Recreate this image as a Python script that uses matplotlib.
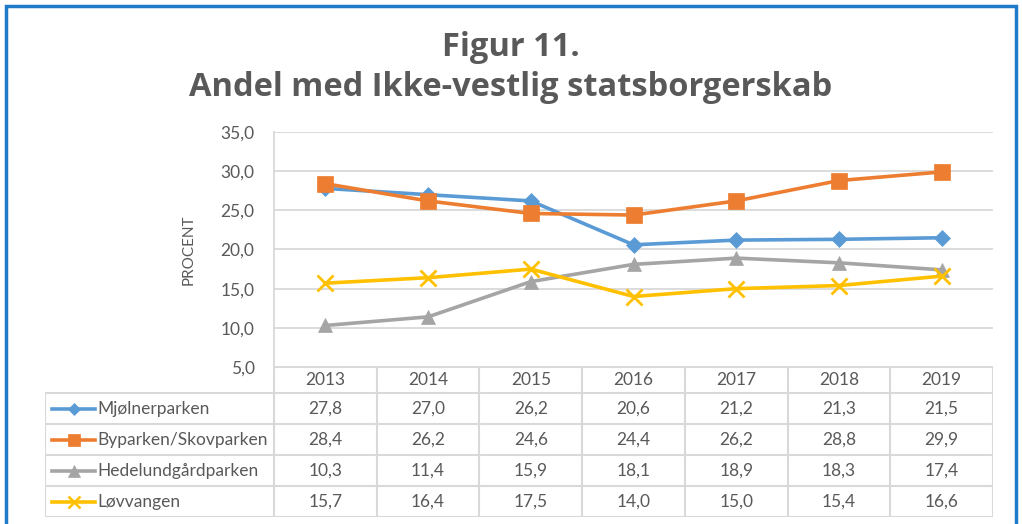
import matplotlib.pyplot as plt
from matplotlib.patches import Rectangle
import numpy as np

# data
years = ["2013", "2014", "2015", "2016", "2017", "2018", "2019"]
names = ["Mjølnerparken", "Byparken/Skovparken", "Hedelundgårdparken", "Løvvangen"]
mjolner = [27.8, 27.0, 26.2, 20.6, 21.2, 21.3, 21.5]
byparken = [28.4, 26.2, 24.6, 24.4, 26.2, 28.8, 29.9]
hedelund = [10.3, 11.4, 15.9, 18.1, 18.9, 18.3, 17.4]
lovvangen = [15.7, 16.4, 17.5, 14.0, 15.0, 15.4, 16.6]
yticks = [5, 10, 15, 20, 25, 30, 35]

series = [mjolner, byparken, hedelund, lovvangen]
colors = ["#5B9BD5", "#ED7D31", "#A5A5A5", "#FFC000"]
markers = ["D", "s", "^", "x"]
msizes = [8, 11, 10, 11]

txt = "#595959"
grid = "#D9D9D9"
plt.rcParams["font.family"] = ["Lato", "DejaVu Sans"]

W, H = 1022, 524
fig = plt.figure(figsize=(W / 100, H / 100), dpi=100)


def box(x0, y0, x1, y1):
    # pixel box (top-left origin) -> figure fraction rect
    return [x0 / W, 1 - y1 / H, (x1 - x0) / W, (y1 - y0) / H]


# blue frame
fig.patches.append(Rectangle((6 / W, -0.1), (1010) / W, 1.1 - 6 / H,
                             transform=fig.transFigure, fill=False,
                             edgecolor="#1F7BC9", linewidth=2.5))

title_kw = dict(ha="center", va="center", fontsize=23.5, fontweight="bold",
                color=txt, family=["Open Sans", "DejaVu Sans"])
fig.text(0.5, 1 - 48 / H, "Figur 11.", **title_kw)
fig.text(0.5, 1 - 87 / H, "Andel med Ikke-vestlig statsborgerskab", **title_kw)

# line chart
ax = fig.add_axes(box(274, 132, 993, 367))
x = np.arange(len(years))
for vals, c, m, ms in zip(series, colors, markers, msizes):
    ax.plot(x, vals, color=c, lw=2.6, marker=m, markersize=ms,
            markeredgewidth=2 if m == "x" else 0.5, markeredgecolor=c, zorder=3)
ax.set_xlim(-0.5, len(years) - 0.5)
ax.set_ylim(5, 35)
ax.set_yticks(yticks)
ax.set_yticklabels([f"{v:.1f}".replace(".", ",") for v in yticks])
ax.set_xticks([])
ax.grid(axis="y", color=grid, lw=1.3)
ax.set_axisbelow(True)
for s in ["top", "right", "bottom"]:
    ax.spines[s].set_visible(False)
ax.spines["left"].set_color(grid)
ax.spines["left"].set_linewidth(1.3)
ax.tick_params(axis="y", length=0, pad=14, labelsize=12.5, labelcolor=txt)
ax.set_ylabel("PROCENT", fontsize=11, color=txt, labelpad=18)

# data table
tx0 = -229 / 102.7
rows = [0, 0.84, 1.84, 2.84, 3.84, 4.84]
tab = fig.add_axes(box(45, 367, 993, 517))
tab.set_xlim(tx0, len(years))
tab.set_ylim(rows[-1], 0)
tab.axis("off")
lk = dict(color=grid, lw=1.5, solid_capstyle="butt")
tab.plot([0, len(years)], [0, 0], **lk)
for r in rows[1:]:
    tab.plot([tx0, len(years)], [r, r], **lk)
tab.plot([tx0, tx0], [rows[1], rows[-1]], **lk)
for i in range(len(years) + 1):
    tab.plot([i, i], [0, rows[-1]], **lk)
for i, yr in enumerate(years):
    tab.text(i + 0.5, rows[0] / 2 + rows[1] / 2, yr, ha="center", va="center",
             fontsize=12.5, color=txt)
for j, (nm, vals, c, m, ms) in enumerate(zip(names, series, colors, markers, msizes)):
    yc = (rows[j + 1] + rows[j + 2]) / 2
    tab.plot([-2.16, -1.74], [yc, yc], color=c, lw=2.6)
    tab.plot([-1.95], [yc], color=c, marker=m, markersize=ms * 0.8,
             markeredgewidth=1.8 if m == "x" else 0.5, markeredgecolor=c)
    tab.text(-1.72, yc, nm, ha="left", va="center", fontsize=12.5, color=txt)
    for i, v in enumerate(vals):
        tab.text(i + 0.5, yc, f"{v:.1f}".replace(".", ","), ha="center",
                 va="center", fontsize=12.5, color=txt)

fig.savefig("out.png", dpi=100, facecolor="white")
